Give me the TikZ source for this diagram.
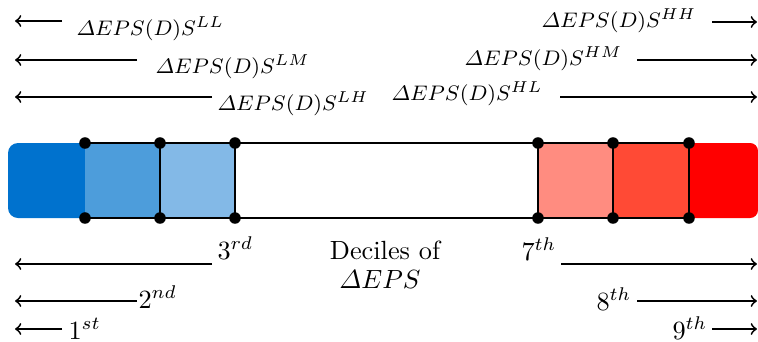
\documentclass[tikz,border=0pt]{standalone}
\usepackage{amsmath}
\definecolor{cBa}{RGB}{0,114,206}
\definecolor{cBb}{RGB}{77,157,219}
\definecolor{cBc}{RGB}{131,185,231}
\definecolor{cRa}{RGB}{255,140,128}
\definecolor{cRb}{RGB}{255,74,53}
\definecolor{cRc}{RGB}{255,0,0}
\begin{document}
\begin{tikzpicture}[x=0.38pt,y=-0.38pt,
  arr/.style={->,line width=0.7pt},
  cellline/.style={line width=0.5pt},
  toplbl/.style={font=\footnotesize,inner sep=0pt},
  botlbl/.style={inner sep=0pt}]
\useasboundingbox (0,0) rectangle (758,341);

% cells
\fill[cBa, rounded corners=3.8pt] (8,143) rectangle (100,218);
\fill[cRc, rounded corners=3pt] (670,143) rectangle (758,218);
\fill[cBb] (85,143) rectangle (160,218);
\fill[cBc] (160,143) rectangle (235,218);
\fill[cRa] (538,143) rectangle (613,218);
\fill[cRb] (613,143) rectangle (689,218);

\foreach \i/\x in {1/85,2/160,3/235,4/538,5/613,6/689}{
  \coordinate (t\i) at (\x,143);
  \coordinate (b\i) at (\x,218);
}
\draw[cellline] (t1) -- (t6);
\draw[cellline] (b1) -- (b6);
\foreach \i in {2,...,6}{\draw[cellline] (t\i) -- (b\i);}
\foreach \i in {1,...,6}{
  \fill (t\i) circle[radius=2.2pt];
  \fill (b\i) circle[radius=2.2pt];
}

% top left labels
\node[toplbl, anchor=base west] (ll) at (76,35) {$\varDelta EPS(D)S^{LL}$};
\node[toplbl, anchor=base west] (lm) at (155,73) {$\varDelta EPS(D)S^{LM}$};
\node[toplbl, anchor=base west] (lh) at (217,110) {$\varDelta EPS(D)S^{LH}$};
\coordinate (lls) at (62,21);  \coordinate (lle) at (15,21);
\coordinate (lms) at (137,60); \coordinate (lme) at (15,60);
\coordinate (lhs) at (212,97); \coordinate (lhe) at (15,97);
\draw[arr] (lls) -- (lle);
\draw[arr] (lms) -- (lme);
\draw[arr] (lhs) -- (lhe);

% top right labels
\node[toplbl, anchor=base west] (hh) at (541,27) {$\varDelta EPS(D)S^{HH}$};
\node[toplbl, anchor=base west] (hm) at (464,65) {$\varDelta EPS(D)S^{HM}$};
\node[toplbl, anchor=base west] (hl) at (391,100) {$\varDelta EPS(D)S^{HL}$};
\coordinate (hhs) at (712,22); \coordinate (hhe) at (757,22);
\coordinate (hms) at (637,60); \coordinate (hme) at (757,60);
\coordinate (hls) at (560,97); \coordinate (hle) at (757,97);
\draw[arr] (hhs) -- (hhe);
\draw[arr] (hms) -- (hme);
\draw[arr] (hls) -- (hle);

% bottom labels
\node[botlbl, anchor=base west] (d3) at (217,259) {$3^{rd}$};
\node[botlbl, anchor=base west] (d2) at (138,308) {$2^{nd}$};
\node[botlbl, anchor=base west] (d1) at (68,339) {$1^{st}$};
\node[botlbl, anchor=base west] (d7) at (521,260) {$7^{th}$};
\node[botlbl, anchor=base west] (d8) at (596,310) {$8^{th}$};
\node[botlbl, anchor=base west] (d9) at (672,339) {$9^{th}$};
\coordinate (a3s) at (212,264); \coordinate (a3e) at (15,264);
\coordinate (a2s) at (137,301); \coordinate (a2e) at (15,301);
\coordinate (a1s) at (62,329);  \coordinate (a1e) at (15,329);
\coordinate (a7s) at (561,264); \coordinate (a7e) at (757,264);
\coordinate (a8s) at (637,301); \coordinate (a8e) at (757,301);
\coordinate (a9s) at (712,329); \coordinate (a9e) at (757,329);
\draw[arr] (a3s) -- (a3e);
\draw[arr] (a2s) -- (a2e);
\draw[arr] (a1s) -- (a1e);
\draw[arr] (a7s) -- (a7e);
\draw[arr] (a8s) -- (a8e);
\draw[arr] (a9s) -- (a9e);

\node[botlbl, anchor=base] (dec1) at (385,259) {Deciles of};
\node[botlbl, anchor=base] (dec2) at (380,288) {$\varDelta EPS$};
\end{tikzpicture}
\end{document}
